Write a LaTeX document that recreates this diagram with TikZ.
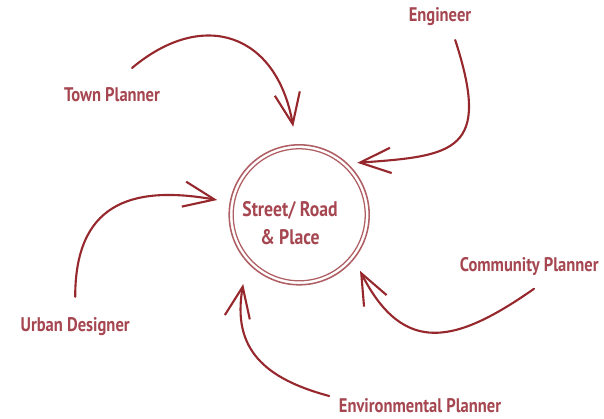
\documentclass[tikz,border=0pt]{standalone}
\usepackage{fontspec}
\setmainfont{PT Sans}[FakeStretch=0.84]
\usepackage{tkz-euclide}
\usetikzlibrary{arrows.meta}
\definecolor{plannerred}{RGB}{150,40,45}
\definecolor{labelred}{RGB}{165,70,80}
\definecolor{ringred}{RGB}{175,95,100}
\tikzset{
  role/.style={text=labelred,font=\fontsize{14}{19}\selectfont\bfseries},
  feed/.style={draw=plannerred,line width=1.5pt,line cap=round,
    -{Straight Barb[length=22pt,width=18pt]}}
}
\begin{document}
\begin{tikzpicture}
  \useasboundingbox (0,0) rectangle (15.1,10.45);
  \tkzDefPoints{7.48/5.08/O,9.23/5.08/R,9.13/5.08/S}
  \tkzDrawCircle[color=ringred,line width=1.1pt](O,R)
  \tkzDrawCircle[color=ringred,line width=.9pt](O,S)
  \node[role,align=center,font=\fontsize{15}{20}\selectfont\bfseries]
    (place) at (7.25,4.88) {Street/ Road\\\& Place};
  \node[role] (town) at (2.80,8.08) {Town Planner};
  \node[role] (eng) at (11.00,10.03) {Engineer};
  \node[role] (comm) at (13.23,3.78) {Community Planner};
  \node[role] (env) at (10.50,0.30) {Environmental Planner};
  \node[role] (urban) at (1.88,2.28) {Urban Designer};
  \tkzDefPoints{3.30/8.75/t1,7.33/7.28/t2,11.38/9.45/e1,8.93/6.38/e2,
    13.35/3.23/c1,9.00/3.68/c2,8.23/0.55/v1,6.08/3.35/v2,
    1.88/3.03/u1,5.43/5.45/u2}
  \draw[feed] (t1) to[out=40,in=100,looseness=1.4] (t2);
  \draw[feed] (e1) to[out=-72,in=4,out looseness=1.9,in looseness=1.6] (e2);
  \draw[feed] (c1) to[out=-145,in=-63,looseness=1.4] (c2);
  \draw[feed] (v1) to[out=165,in=-100,looseness=1.2] (v2);
  \draw[feed] (u1) to[out=90,in=170,looseness=1.35] (u2);
\end{tikzpicture}
\end{document}
